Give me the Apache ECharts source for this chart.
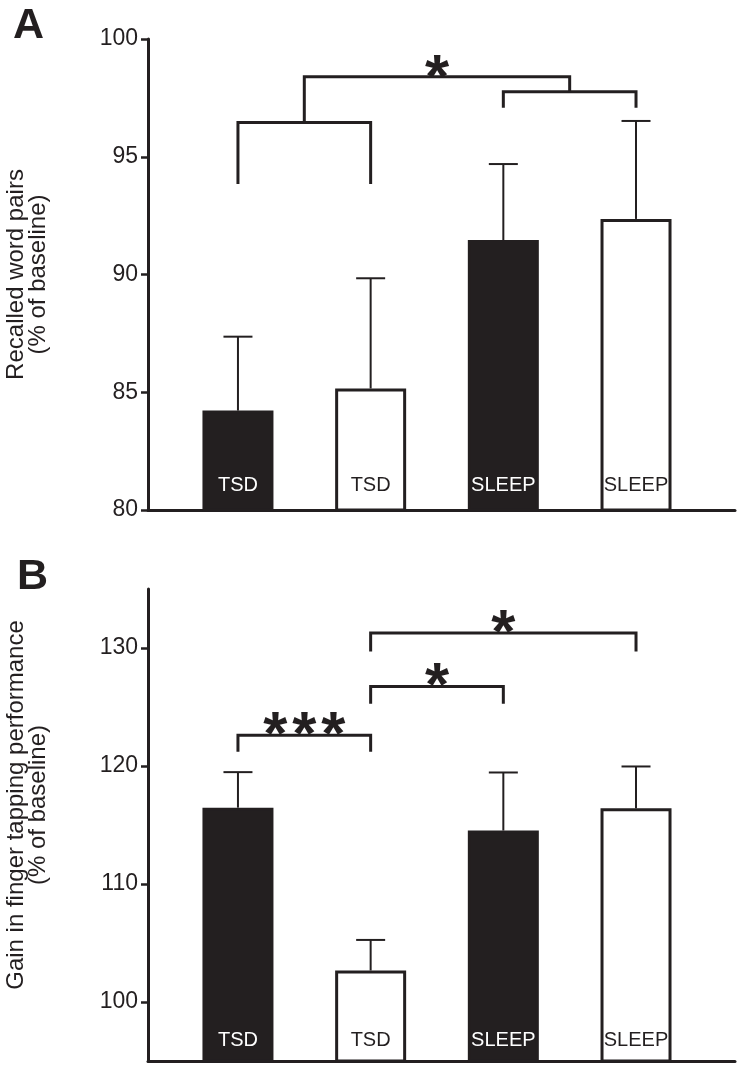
<!DOCTYPE html>
<html><head><meta charset="utf-8">
<script src="https://cdn.jsdelivr.net/npm/echarts@6/dist/echarts.min.js"></script>
<style>html,body{margin:0;padding:0;background:#fff}#c{width:737px;height:1069px}</style>
</head><body><div id="c"></div>
<script>
// ---- data ----
const categories = ['TSD', 'TSD', 'SLEEP', 'SLEEP'];
const groupFill = ['dark', 'light', 'dark', 'light'];
const aMeans = [84.22, 85.16, 91.46, 92.36];
const aErrTops = [87.36, 89.84, 94.69, 96.52];
const bMeans = [116.47, 102.67, 114.53, 116.41];
const bErrTops = [119.48, 105.26, 119.45, 119.96];
const aTicks = [80, 85, 90, 95, 100];
const bTicks = [100, 110, 120, 130];
// brackets: [fromBar, toBar, level, leftLegEnd, rightLegEnd] (bar positions 1..4)
const aBrackets = [[1, 2, 96.45, 93.84, 93.84], [3, 4, 97.76, 97.08, 97.08], [1.5, 3.5, 98.4, 96.45, 97.76]];
const bBrackets = [[1, 2, 122.6, 121.2, 121.2], [2, 3, 126.74, 125.28, 125.28], [2, 4, 131.28, 129.7, 129.7]];
// significance marks: [position, level, text]
const aStars = [[2.5, 98.9, '*']];
const bStars = [[1.5, 123.76, '***'], [2.5, 127.9, '*'], [3, 132.35, '*']];

// ---- style ----
const INK = '#231f20';
const FONT = '"Liberation Sans", Arial, Helvetica, sans-serif';
const STAR_FONT_SIZE = 62;
const STAR_DY = 15;
const STAR_STEP = 29;

const chart = echarts.init(document.getElementById('c'), null, {renderer: 'canvas'});

function barData(means) {
  return means.map((v, i) => ({
    value: [i + 1, v],
    itemStyle: {color: groupFill[i] === 'dark' ? INK : '#ffffff', borderColor: INK, borderWidth: 3},
    label: {color: groupFill[i] === 'dark' ? '#ffffff' : INK}
  }));
}
function errRender(params, api) {
  const x = api.value(0);
  const p0 = api.coord([x, api.value(1)]);
  const p1 = api.coord([x, api.value(2)]);
  const half = 14.5;
  return {type: 'group', children: [
    {type: 'line', shape: {x1: p0[0], y1: p0[1], x2: p1[0], y2: p1[1]}, style: {stroke: INK, lineWidth: 2}},
    {type: 'line', shape: {x1: p1[0] - half, y1: p1[1], x2: p1[0] + half, y2: p1[1]}, style: {stroke: INK, lineWidth: 2}}
  ]};
}
function bracketRender(params, api) {
  const x1 = api.value(0), x2 = api.value(1), y = api.value(2), l1 = api.value(3), l2 = api.value(4);
  const pts = [api.coord([x1, l1]), api.coord([x1, y]), api.coord([x2, y]), api.coord([x2, l2])];
  return {type: 'polyline', shape: {points: pts}, style: {stroke: INK, lineWidth: 3, fill: null, lineJoin: 'miter', lineCap: 'butt'}};
}
function starRender(stars) {
  return function (params, api) {
    const s = stars[params.dataIndex];
    const p = api.coord([s[0], s[1]]);
    const chars = s[2].split('');
    return {type: 'group', children: chars.map((ch, k) => ({
      type: 'text',
      x: p[0] + (k - (chars.length - 1) / 2) * STAR_STEP,
      y: p[1] + STAR_DY,
      style: {text: ch, font: 'bold ' + STAR_FONT_SIZE + 'px ' + FONT, fill: INK, align: 'center', verticalAlign: 'middle'}
    }))};
  };
}

function xAxisCfg(gi) {
  return {gridIndex: gi, type: 'value', min: 0.322, max: 4.746,
    axisLine: {show: true, onZero: false, lineStyle: {color: INK, width: 3}},
    axisTick: {show: false}, axisLabel: {show: false}, splitLine: {show: false}};
}
function yAxisCfg(gi, min, max, ticks, name, namePad) {
  return {gridIndex: gi, type: 'value', min: min, max: max,
    axisLine: {show: true, onZero: false, lineStyle: {color: INK, width: 3}},
    axisTick: {show: true, inside: false, length: 7, lineStyle: {color: INK, width: 2.5}, customValues: ticks},
    axisLabel: {show: true, margin: 10, color: INK, fontSize: 23, fontFamily: FONT, customValues: ticks},
    splitLine: {show: false},
    name: name, nameLocation: 'middle', nameRotate: 90, nameGap: 99,
    nameTextStyle: {color: INK, fontSize: 24, lineHeight: 22, fontFamily: FONT, padding: namePad}
  };
}
function labelCfg(dist) {
  return {show: true, position: 'insideBottom', distance: dist, fontSize: 20, fontFamily: FONT,
    formatter: p => categories[p.dataIndex]};
}

chart.setOption({
  animation: false,
  backgroundColor: '#ffffff',
  grid: [
    {left: 148, right: 2, top: 39, height: 471, containLabel: false, outerBoundsMode: 'none'},
    {left: 148, right: 2, top: 589, height: 472, containLabel: false, outerBoundsMode: 'none'}
  ],
  xAxis: [xAxisCfg(0), xAxisCfg(1)],
  yAxis: [
    yAxisCfg(0, 80, 100, aTicks, 'Recalled word pairs\n(% of baseline)', [0, 0, 0, 0]),
    yAxisCfg(1, 95, 135, bTicks, 'Gain in finger tapping performance\n(% of baseline)', [0, 0, 0, 40])
  ],
  graphic: [
    {type: 'text', left: 13, top: 5, style: {text: 'A', font: 'bold 43px ' + FONT, fill: INK}},
    {type: 'text', left: 17, top: 556, style: {text: 'B', font: 'bold 43px ' + FONT, fill: INK}}
  ],
  series: [
    {type: 'bar', xAxisIndex: 0, yAxisIndex: 0, barWidth: 71, data: barData(aMeans), label: labelCfg(16), z: 2},
    {type: 'custom', xAxisIndex: 0, yAxisIndex: 0, renderItem: errRender, data: aMeans.map((v, i) => [i + 1, v, aErrTops[i]]), z: 3},
    {type: 'custom', xAxisIndex: 0, yAxisIndex: 0, renderItem: bracketRender, data: aBrackets, z: 3, clip: false},
    {type: 'custom', xAxisIndex: 0, yAxisIndex: 0, renderItem: starRender(aStars), data: aStars.map(s => [s[0], s[1]]), z: 3, clip: false},
    {type: 'bar', xAxisIndex: 1, yAxisIndex: 1, barWidth: 71, data: barData(bMeans), label: labelCfg(12), z: 2},
    {type: 'custom', xAxisIndex: 1, yAxisIndex: 1, renderItem: errRender, data: bMeans.map((v, i) => [i + 1, v, bErrTops[i]]), z: 3},
    {type: 'custom', xAxisIndex: 1, yAxisIndex: 1, renderItem: bracketRender, data: bBrackets, z: 3, clip: false},
    {type: 'custom', xAxisIndex: 1, yAxisIndex: 1, renderItem: starRender(bStars), data: bStars.map(s => [s[0], s[1]]), z: 3, clip: false}
  ]
});
</script>
</body></html>
